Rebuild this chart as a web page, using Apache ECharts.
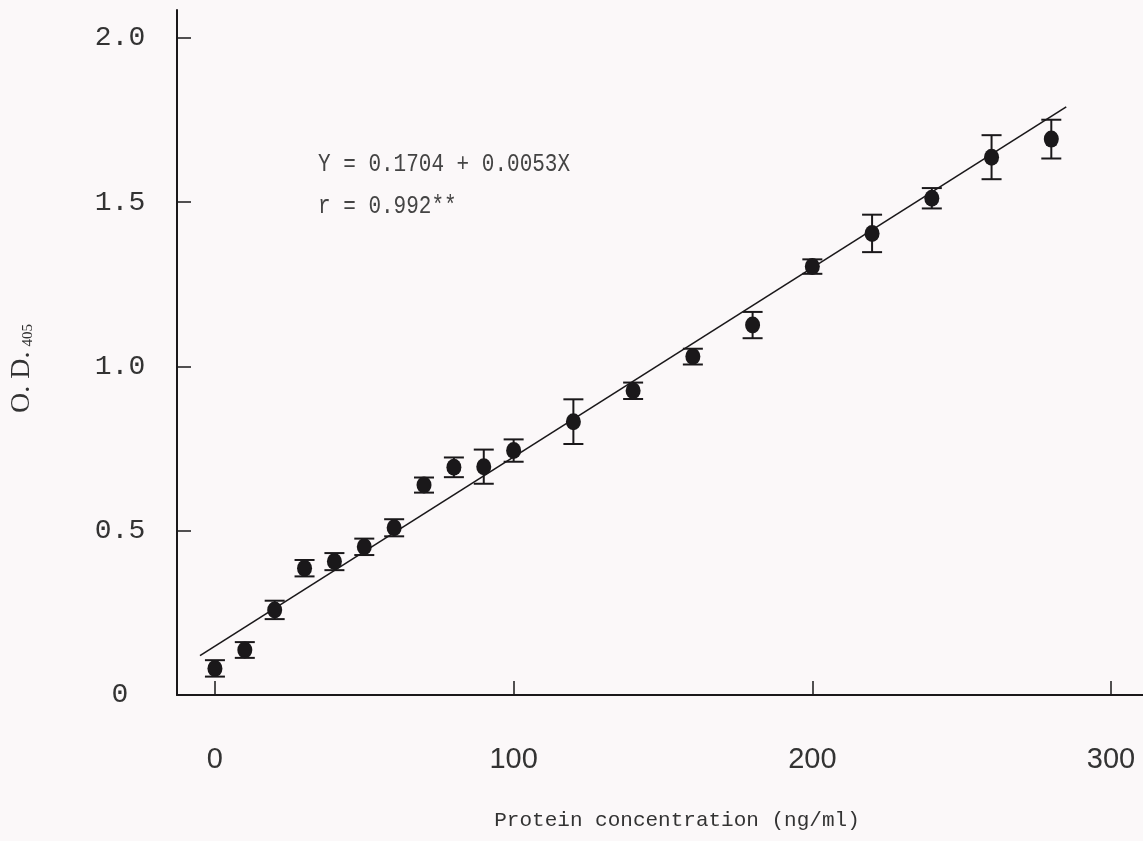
<!DOCTYPE html>
<html>
<head>
<meta charset="utf-8">
<script src="https://cdn.jsdelivr.net/npm/echarts@6/dist/echarts.min.js"></script>
<style>
html,body{margin:0;padding:0;background:#fbf8f9;}
#chart{width:1143px;height:841px;}
</style>
</head>
<body>
<div id="chart"></div>
<script>
// Data
const concentrations = [0,10,20,30,40,50,60,70,80,90,100,120,140,160,180,200,220,240,260,280];
const odMeans = [0.081,0.137,0.259,0.386,0.406,0.451,0.509,0.639,0.693,0.695,0.744,0.832,0.926,1.030,1.126,1.304,1.405,1.512,1.637,1.692];
const odErrors = [0.025,0.024,0.028,0.025,0.026,0.025,0.026,0.023,0.030,0.052,0.034,0.068,0.025,0.024,0.040,0.022,0.057,0.031,0.067,0.059];
const fitLineX = [-5, 285];
const fitLineY = [0.12, 1.79];
const xTickValues = [0, 100, 200, 300];
const yTickValues = [0.5, 1.0, 1.5, 2.0];
const yLabelValues = [0, 0.5, 1.0, 1.5, 2.0];
const equationLines = ['Y = 0.1704 + 0.0053X', 'r = 0.992**'];

const ink = '#1a181a';
const pointData = concentrations.map((c, i) => [c, odMeans[i]]);
const errData = concentrations.map((c, i) => [c, odMeans[i], odErrors[i]]);
const lineData = fitLineX.map((x, i) => [x, fitLineY[i]]);

const chart = echarts.init(document.getElementById('chart'));
chart.setOption({
  backgroundColor: '#fbf8f9',
  animation: false,
  grid: { left: 177, right: 0, top: 10, bottom: 146, containLabel: false, outerBoundsMode: 'none' },
  xAxis: {
    type: 'value',
    min: -12.7, max: 310.7,
    splitLine: { show: false },
    axisLine: { show: true, onZero: false, lineStyle: { color: ink, width: 2 } },
    axisTick: { show: true, inside: true, length: 14, customValues: xTickValues, lineStyle: { color: ink, width: 1.5 } },
    axisLabel: {
      customValues: xTickValues,
      margin: 50,
      fontFamily: 'Liberation Sans, Arial, sans-serif',
      fontSize: 29,
      color: '#333'
    },
    name: 'Protein concentration (ng/ml)',
    nameLocation: 'middle',
    nameGap: 115,
    nameTextStyle: { fontFamily: 'Liberation Mono, monospace', fontSize: 21, color: '#333', padding: [0, 0, 0, 34] }
  },
  yAxis: {
    type: 'value',
    min: 0, max: 2.085,
    splitLine: { show: false },
    axisLine: { show: true, onZero: false, lineStyle: { color: ink, width: 2 } },
    axisTick: { show: true, inside: true, length: 14, customValues: yTickValues, lineStyle: { color: ink, width: 1.5 } },
    axisLabel: {
      customValues: yLabelValues,
      formatter: v => (v === 0 ? '0' : v.toFixed(1)),
      margin: 57,
      align: 'center',
      padding: [12, 0, 0, 0],
      fontFamily: 'Liberation Mono, DejaVu Sans Mono, monospace',
      fontSize: 28,
      color: '#333'
    },
    name: '{a|O. D.}{b|405}',
    nameLocation: 'middle',
    nameRotate: 90,
    nameGap: 141,
    nameTextStyle: {
      padding: [0, 32, 0, 0],
      rich: {
        a: { fontFamily: 'Liberation Serif, serif', fontSize: 28, color: '#333' },
        b: { fontFamily: 'Liberation Serif, serif', fontSize: 15, color: '#333', padding: [13, 0, 0, 5] }
      }
    }
  },
  graphic: [
    { type: 'text', left: 318, top: 152, scaleY: 1.2, style: { text: equationLines[0], font: '21px "Liberation Mono", monospace', fill: '#444' } },
    { type: 'text', left: 318, top: 194, scaleY: 1.2, style: { text: equationLines[1], font: '21px "Liberation Mono", monospace', fill: '#444' } }
  ],
  series: [
    {
      type: 'line',
      data: lineData,
      symbol: 'none',
      lineStyle: { color: ink, width: 1.6 },
      z: 2
    },
    {
      type: 'custom',
      data: errData,
      z: 3,
      renderItem: function (params, api) {
        const x = api.value(0), y = api.value(1), e = api.value(2);
        const top = api.coord([x, y + e]);
        const bot = api.coord([x, y - e]);
        const hw = 10;
        const st = { stroke: ink, lineWidth: 2 };
        return {
          type: 'group',
          children: [
            { type: 'line', shape: { x1: top[0], y1: top[1], x2: bot[0], y2: bot[1] }, style: st },
            { type: 'line', shape: { x1: top[0] - hw, y1: top[1], x2: top[0] + hw, y2: top[1] }, style: st },
            { type: 'line', shape: { x1: bot[0] - hw, y1: bot[1], x2: bot[0] + hw, y2: bot[1] }, style: st }
          ]
        };
      }
    },
    {
      type: 'scatter',
      data: pointData,
      symbol: 'circle',
      symbolSize: [15, 17],
      itemStyle: { color: ink, opacity: 1 },
      z: 4
    }
  ]
});
</script>
</body>
</html>
